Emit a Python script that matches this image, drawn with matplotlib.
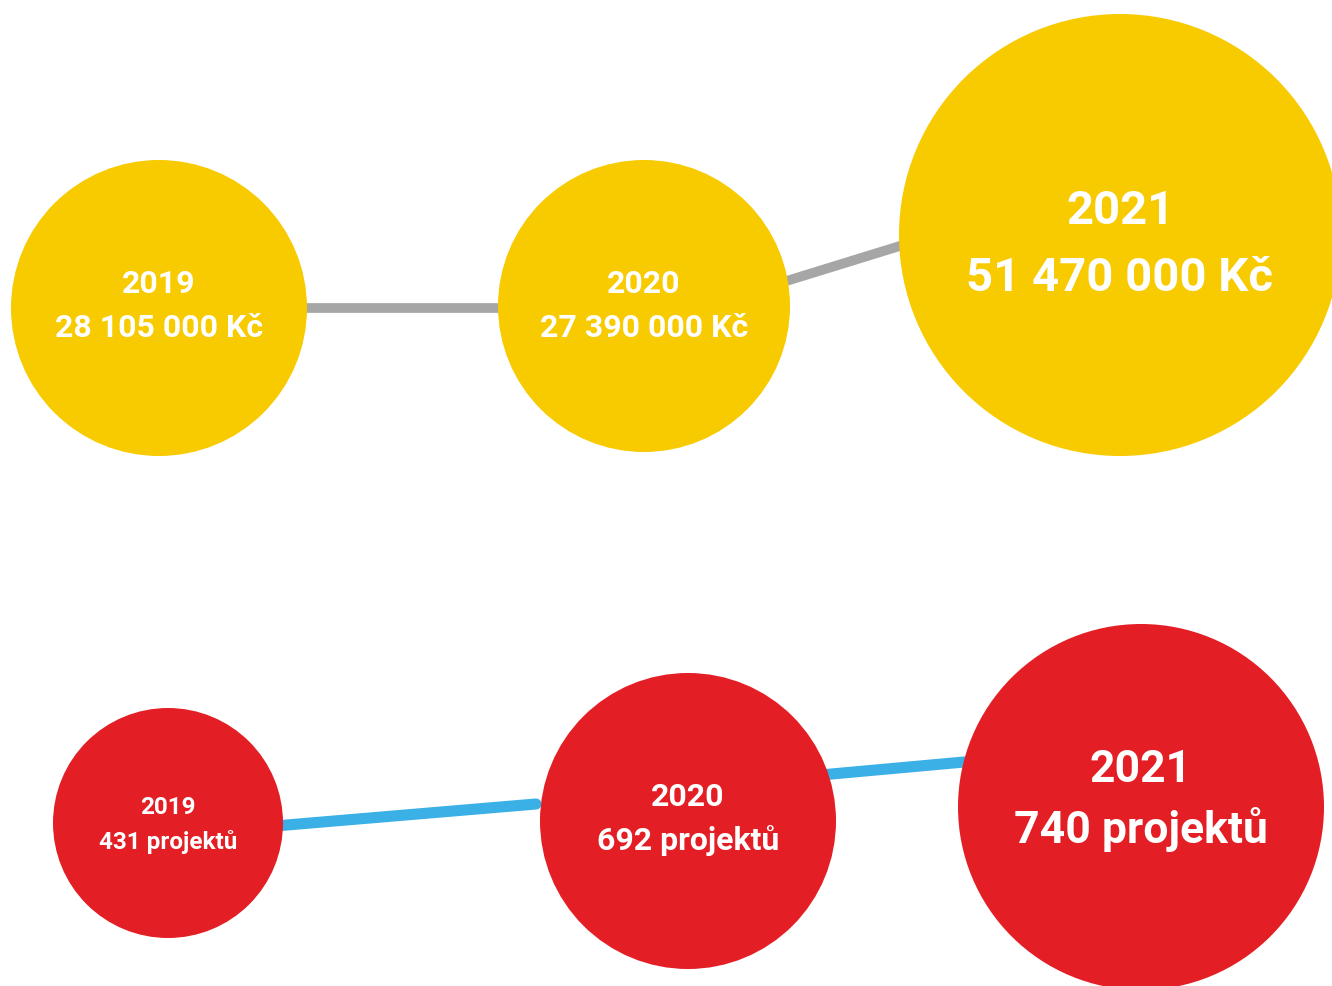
import matplotlib.pyplot as plt
from matplotlib.patches import Circle

# Hodnoty grantů a počty projektů podle let
years = ["2019", "2020", "2021"]
amounts_czk = [28105000, 27390000, 51470000]
projects = [431, 692, 740]

# Rozvržení bublin (pixely plátna)
money_x = [159, 644, 1120]
money_y = [309, 307, 236]
money_r = [148, 146, 221]
money_font = [23, 23, 34]
money_year_dy = [-25, -23, -25]
money_value_dy = [19, 21, 42]

proj_x = [168, 688, 1141]
proj_y = [824, 822, 808]
proj_r = [115, 148, 183]
proj_font = [17.5, 23, 32]
proj_year_dy = [-16, -25, -38]
proj_value_dy = [18, 19, 22]

# Spojnice mezi bublinami (x0, y0, x1, y1)
money_links = [(159, 309, 644, 309), (644, 326, 1120, 179)]
proj_links = [(168, 836, 536, 805), (688, 788, 1141, 747)]

YELLOW = "#F8CA00"
RED = "#E31E25"
GREY = "#A6A6A6"
BLUE = "#3AB0E6"

plt.rcParams['font.family'] = ['Roboto', 'DejaVu Sans']

fig = plt.figure(figsize=(13.32, 9.87), dpi=100)
ax = fig.add_axes([0, 0, 1, 1])
ax.set_xlim(0, 1332)
ax.set_ylim(987, 0)
ax.axis('off')


def fmt_czk(v):
    return f"{v:,}".replace(",", " ") + " Kč"


for x0, y0, x1, y1 in money_links:
    ax.plot([x0, x1], [y0, y1], color=GREY, lw=7, solid_capstyle='butt', zorder=1)
for x0, y0, x1, y1 in proj_links:
    ax.plot([x0, x1], [y0, y1], color=BLUE, lw=8, solid_capstyle='round', zorder=1)

for i, year in enumerate(years):
    ax.add_patch(Circle((money_x[i], money_y[i]), money_r[i], color=YELLOW, lw=0, zorder=2))
    ax.text(money_x[i], money_y[i] + money_year_dy[i], year, color='white',
            fontsize=money_font[i], fontweight='bold', ha='center', va='center', zorder=3)
    ax.text(money_x[i], money_y[i] + money_value_dy[i], fmt_czk(amounts_czk[i]), color='white',
            fontsize=money_font[i], fontweight='bold', ha='center', va='center', zorder=3)

    ax.add_patch(Circle((proj_x[i], proj_y[i]), proj_r[i], color=RED, lw=0, zorder=2))
    ax.text(proj_x[i], proj_y[i] + proj_year_dy[i], year, color='white',
            fontsize=proj_font[i], fontweight='bold', ha='center', va='center', zorder=3)
    ax.text(proj_x[i], proj_y[i] + proj_value_dy[i], f"{projects[i]} projektů", color='white',
            fontsize=proj_font[i], fontweight='bold', ha='center', va='center', zorder=3)

fig.savefig("out.png", dpi=100, facecolor='white')
